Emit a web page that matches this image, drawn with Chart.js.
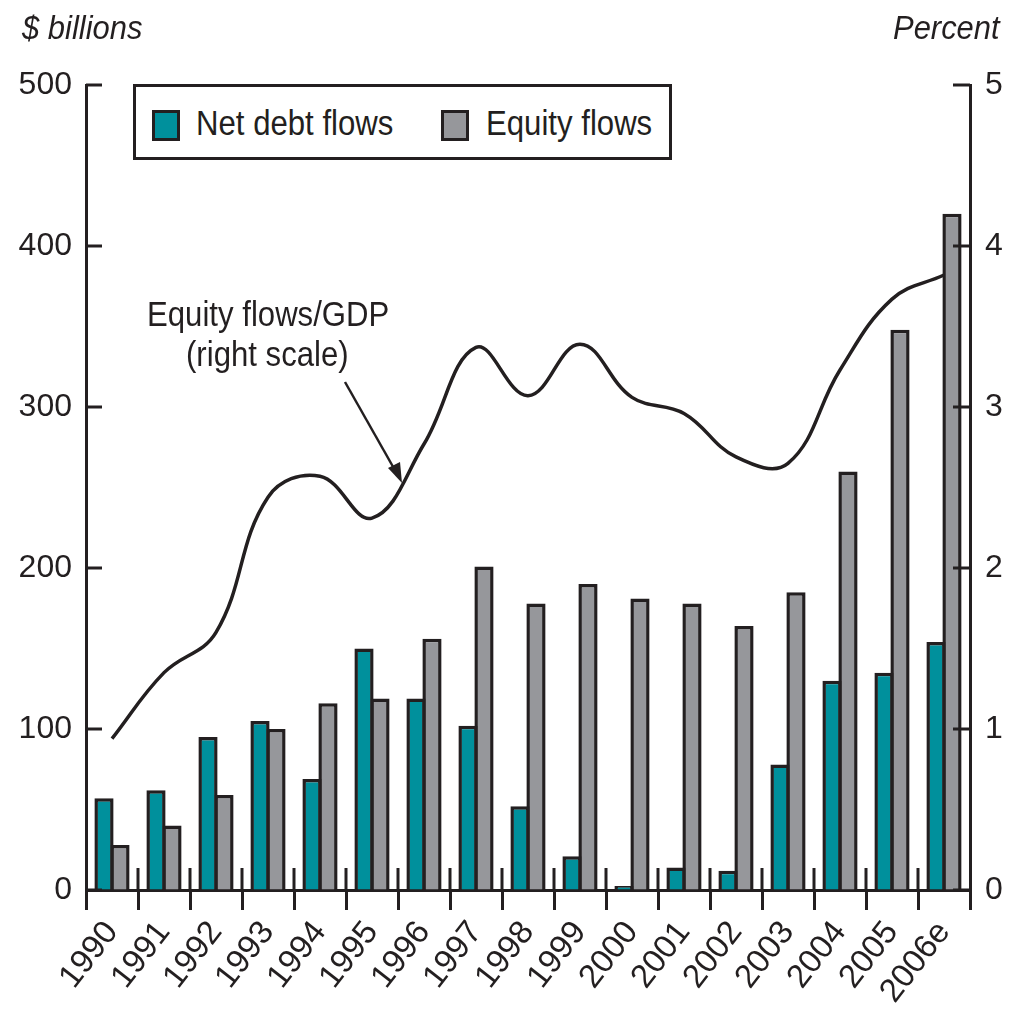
<!DOCTYPE html>
<html>
<head>
<meta charset="utf-8">
<script src="https://cdn.jsdelivr.net/npm/chart.js@4.4.1/dist/chart.umd.min.js"></script>
<style>
  html, body { margin: 0; padding: 0; background: #fff; }
  #wrap { position: relative; width: 1021px; height: 1013px; overflow: hidden; }
  #wrap canvas { position: absolute; left: 0; top: 0; }
  .txt { position: absolute; font-family: 'Liberation Sans', Arial, sans-serif; color: #231f20; white-space: nowrap; line-height: 1; transform-origin: 0 0; }
  .ital { font-style: italic; font-size: 34px; transform: scaleX(0.91); }
  .n35 { font-size: 35px; transform: scaleX(0.89); }
  #legend { position: absolute; left: 133px; top: 84px; width: 533px; height: 70px; border: 3px solid #231f20; background: #fff; }
  .sw { position: absolute; top: 23px; width: 22px; height: 25px; border: 3px solid #231f20; }
  .lt { top: 18px; }
</style>
</head>
<body>
<div id="wrap">
  <canvas id="c" width="1021" height="1013"></canvas>
  <div class="txt ital" style="left:22px; top:10px;">$ billions</div>
  <div class="txt ital" style="left:893px; top:10px;">Percent</div>
  <div id="legend">
    <div class="sw" style="left:16px; background:#00909c;"></div>
    <div class="txt n35 lt" style="left:60px;">Net debt flows</div>
    <div class="sw" style="left:305px; background:#96979b;"></div>
    <div class="txt n35 lt" style="left:350px;">Equity flows</div>
  </div>
  <div class="txt n35" style="left:147px; top:296px;">Equity flows/GDP</div>
  <div class="txt n35" style="left:186px; top:336px;">(right scale)</div>
  <svg width="1021" height="1013" style="position:absolute;left:0;top:0;pointer-events:none">
    <line x1="345" y1="382" x2="396" y2="472" stroke="#231f20" stroke-width="2.5"/>
    <polygon points="402,483 388,468 400,462" fill="#231f20"/>
  </svg>
</div>
<script>
const years = ['1990','1991','1992','1993','1994','1995','1996','1997','1998','1999','2000','2001','2002','2003','2004','2005','2006e'];
const netDebtFlows = [57, 62, 95, 105, 69, 150, 119, 102, 52, 21, 2.5, 14, 12, 78, 130, 135, 154];
const equityFlows = [28, 40, 59, 100, 116, 119, 156, 201, 178, 190, 181, 178, 164, 185, 260, 348, 420];
const equityGdpPct = [0.94, 1.35, 1.6, 2.44, 2.57, 2.31, 2.77, 3.37, 3.07, 3.39, 3.06, 2.96, 2.69, 2.65, 3.23, 3.67, 3.82];
const leftTicks = [0, 100, 200, 300, 400, 500];
const rightTicks = [0, 1, 2, 3, 4, 5];

const INK = '#231f20';
const FONT = "'Liberation Sans', Arial, sans-serif";
Chart.defaults.font.family = FONT;
Chart.defaults.color = INK;

const axisDecor = {
  id: 'axisDecor',
  afterDraw(chart) {
    const ctx = chart.ctx;
    const x = chart.scales.x, y = chart.scales.y, y2 = chart.scales.y2;
    ctx.save();
    ctx.strokeStyle = INK;
    ctx.lineWidth = 3;
    ctx.lineCap = 'butt';
    y.ticks.forEach(t => {
      const py = Math.round(y.getPixelForValue(t.value));
      ctx.beginPath(); ctx.moveTo(y.right, py); ctx.lineTo(y.right + 16, py); ctx.stroke();
    });
    y2.ticks.forEach(t => {
      const py = Math.round(y2.getPixelForValue(t.value));
      ctx.beginPath(); ctx.moveTo(y2.left, py); ctx.lineTo(y2.left - 17, py); ctx.stroke();
    });
    const n = years.length;
    const w = x.getPixelForValue(1) - x.getPixelForValue(0);
    for (let i = 1; i < n; i++) {
      const px = Math.round(x.getPixelForValue(i) - w / 2);
      ctx.beginPath(); ctx.moveTo(px, x.top); ctx.lineTo(px, x.top - 22); ctx.stroke();
    }
    ctx.restore();
  }
};

new Chart(document.getElementById('c'), {
  type: 'bar',
  data: {
    labels: years,
    datasets: [
      {
        type: 'line',
        label: 'Equity flows/GDP',
        data: equityGdpPct,
        yAxisID: 'y2',
        borderColor: INK,
        borderWidth: 3.5,
        pointRadius: 0,
        tension: 0.4,
        fill: false,
        order: 3
      },
      {
        label: 'Net debt flows',
        data: netDebtFlows,
        yAxisID: 'y',
        backgroundColor: '#00909c',
        borderColor: INK,
        borderWidth: 3.5,
        order: 1
      },
      {
        label: 'Equity flows',
        data: equityFlows,
        yAxisID: 'y',
        backgroundColor: '#96979b',
        borderColor: INK,
        borderWidth: 3.5,
        order: 2
      }
    ]
  },
  options: {
    responsive: false,
    animation: false,
    events: [],
    layout: { padding: { top: 85, left: 0, right: 0, bottom: 0 } },
    datasets: {
      bar: { categoryPercentage: 0.615, barPercentage: 1.2 }
    },
    plugins: { legend: { display: false }, tooltip: { enabled: false } },
    scales: {
      x: {
        offset: true,
        afterFit: s => { s.height = 123; },
        border: { display: true, color: INK, width: 3 },
        grid: { offset: true, drawOnChartArea: false, drawTicks: true, tickLength: 20, color: INK, lineWidth: 3 },
        ticks: { font: { size: 33 }, color: INK, minRotation: 52, maxRotation: 52, padding: 4, autoSkip: false }
      },
      y: {
        position: 'left',
        min: 0, max: 500,
        afterFit: s => { s.width = 86; },
        afterBuildTicks: s => { s.ticks = leftTicks.map(v => ({ value: v })); },
        border: { display: true, color: INK, width: 3 },
        grid: { drawOnChartArea: false, drawTicks: false },
        ticks: { font: { size: 32 }, color: INK, padding: 14 }
      },
      y2: {
        position: 'right',
        min: 0, max: 5,
        afterFit: s => { s.width = 51; },
        afterBuildTicks: s => { s.ticks = rightTicks.map(v => ({ value: v })); },
        border: { display: true, color: INK, width: 3 },
        grid: { drawOnChartArea: false, drawTicks: false },
        ticks: { font: { size: 32 }, color: INK, padding: 15 }
      }
    }
  },
  plugins: [axisDecor]
});
</script>
</body>
</html>
